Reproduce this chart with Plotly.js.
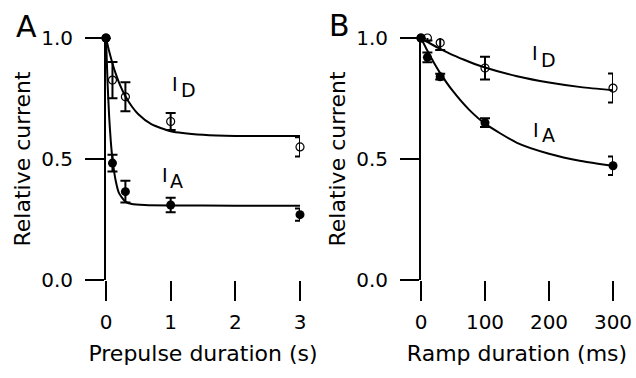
<!DOCTYPE html>
<html>
<head>
<meta charset="utf-8">
<script src="https://cdn.plot.ly/plotly-3.0.1.min.js"></script>
<style>html,body{margin:0;padding:0;background:#fff;}#chart{width:636px;height:378px;}</style>
</head>
<body>
<div id="chart"></div>
<script>
// ---------- Panel A: prepulse duration (s) ----------
const aIA_x = [0, 0.1, 0.3, 1, 3];
const aIA_y = [1.0, 0.483, 0.365, 0.31, 0.27];
const aIA_err = [0, 0.035, 0.045, 0.03, 0.025];
const aID_x = [0, 0.1, 0.3, 1, 3];
const aID_y = [1.0, 0.826, 0.757, 0.655, 0.55];
const aID_err = [0, 0.075, 0.06, 0.035, 0.04];
// fitted curves
const aFitIA_x = [0, 0.025, 0.05, 0.075, 0.1, 0.15, 0.2, 0.3, 0.4, 0.6, 1, 2, 3];
const aFitIA_y = [1.0, 0.81, 0.67, 0.57, 0.50, 0.41, 0.36, 0.324, 0.314, 0.31, 0.308, 0.307, 0.307];
const aFitID_x = [0, 0.05, 0.1, 0.15, 0.2, 0.3, 0.4, 0.5, 0.7, 1, 1.5, 2, 3];
const aFitID_y = [1.0, 0.944, 0.895, 0.853, 0.817, 0.759, 0.717, 0.685, 0.644, 0.615, 0.600, 0.595, 0.595];
const aTicksX = [0, 1, 2, 3];

// ---------- Panel B: ramp duration (ms) ----------
const bIA_x = [0, 10, 30, 100, 300];
const bIA_y = [1.0, 0.92, 0.84, 0.65, 0.472];
const bIA_err = [0, 0.02, 0.012, 0.018, 0.038];
const bID_x = [0, 10, 30, 100, 300];
const bID_y = [1.0, 1.0, 0.98, 0.876, 0.793];
const bID_err = [0, 0.01, 0.03, 0.047, 0.06];
const bFitIA_x = [0, 10, 20, 30, 50, 75, 100, 150, 200, 250, 300];
const bFitIA_y = [1.0, 0.947, 0.899, 0.855, 0.78, 0.704, 0.646, 0.567, 0.522, 0.492, 0.472];
const bFitID_x = [0, 10, 20, 30, 50, 75, 100, 150, 200, 250, 300];
const bFitID_y = [1.0, 0.984, 0.969, 0.955, 0.929, 0.902, 0.878, 0.842, 0.816, 0.797, 0.784];
const bTicksX = [0, 100, 200, 300];

const yTicks = [0, 0.5, 1];
const yTickText = ["0.0", "0.5", "1.0"];

const FONT = "DejaVu Sans";
const W = 636, H = 378;
const px = x => x / W, py = y => 1 - y / H;

function fit(x, y, xa, ya) {
  return {x, y, xaxis: xa, yaxis: ya, type: "scatter", mode: "lines",
    line: {color: "#000", width: 2, shape: "spline", smoothing: 0.6},
    hoverinfo: "skip", showlegend: false, cliponaxis: false};
}
function pts(x, y, e, xa, ya, open) {
  return {x, y, xaxis: xa, yaxis: ya, type: "scatter", mode: "markers",
    error_y: {type: "data", array: e, visible: true, color: "#000", thickness: 2, width: 5},
    marker: open ? {symbol: "circle-open", size: 8, color: "#000", line: {width: 1.2, color: "#000"}}
                 : {symbol: "circle", size: 9, color: "#000"},
    showlegend: false, cliponaxis: false};
}

const data = [
  fit(aFitID_x, aFitID_y, "x", "y"),
  fit(aFitIA_x, aFitIA_y, "x", "y"),
  pts(aID_x, aID_y, aID_err, "x", "y", true),
  pts(aIA_x, aIA_y, aIA_err, "x", "y", false),
  fit(bFitID_x, bFitID_y, "x2", "y2"),
  fit(bFitIA_x, bFitIA_y, "x2", "y2"),
  pts(bID_x, bID_y, bID_err, "x2", "y2", true),
  pts(bIA_x, bIA_y, bIA_err, "x2", "y2", false)
];

const yDomain = [py(280), py(38)];
function xAxis(domain, range, ticks, title) {
  return {domain, range, tickvals: ticks, ticks: "outside", ticklen: 20, tickwidth: 2, tickcolor: "#000",
    showline: false, zeroline: false, showgrid: false, fixedrange: true,
    tickfont: {family: FONT, size: 20, color: "#000"}, ticklabelstandoff: 4,
    title: {text: title, font: {family: FONT, size: 22, color: "#000"}, standoff: 12}};
}
function yAxis(domain, anchor) {
  return {domain, range: [0, 1], anchor, tickvals: yTicks, ticktext: yTickText,
    ticks: "outside", ticklen: 19, tickwidth: 2, tickcolor: "#000",
    showline: true, linewidth: 2, linecolor: "#000", zeroline: false, showgrid: false, fixedrange: true,
    tickfont: {family: FONT, size: 20, color: "#000"}, ticklabelstandoff: 8,
    title: {text: "Relative current", font: {family: FONT, size: 22, color: "#000"}, standoff: 4}};
}

function lab(text, x, y, size) {
  return {text, xref: "paper", yref: "paper", x: px(x), y: py(y), xanchor: "center", yanchor: "middle",
    showarrow: false, font: {family: FONT, size, color: "#000"}};
}

const layout = {
  width: W, height: H,
  margin: {l: 0, r: 0, t: 0, b: 0},
  paper_bgcolor: "#fff", plot_bgcolor: "rgba(0,0,0,0)",
  showlegend: false,
  xaxis: xAxis([px(106), px(300)], [0, 3], aTicksX, "Prepulse duration (s)"),
  yaxis: yAxis(yDomain, "x"),
  xaxis2: Object.assign(xAxis([px(421), px(613)], [0, 300], bTicksX, "Ramp duration (ms)"), {anchor: "y2"}),
  yaxis2: yAxis(yDomain, "x2"),
  annotations: [
    lab("A", 26, 26, 30), lab("B", 339, 25, 30),
    lab("I", 175, 84, 19), lab("D", 188, 90, 19),
    lab("I", 165, 175, 19), lab("A", 176, 181, 19),
    lab("I", 535, 53, 19), lab("D", 548, 60, 19),
    lab("I", 536, 130, 19), lab("A", 548, 135, 19)
  ]
};
layout.xaxis.anchor = "y";

Plotly.newPlot("chart", data, layout, {staticPlot: true, displayModeBar: false});
</script>
</body>
</html>
